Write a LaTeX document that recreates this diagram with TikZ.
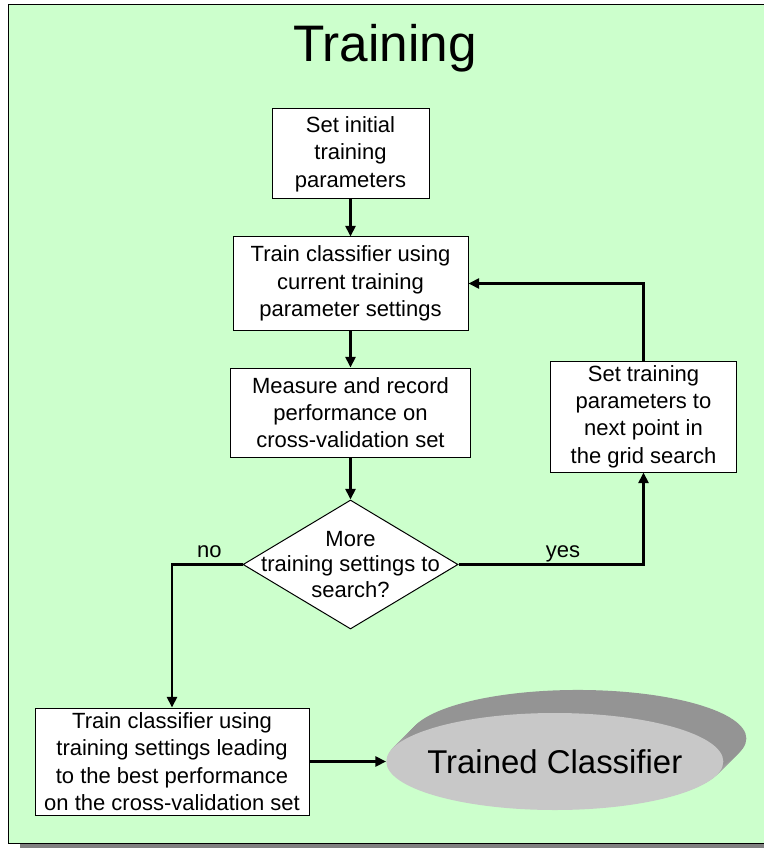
\documentclass[tikz,border=0pt]{standalone}
\usepackage{fontspec}
\setmainfont{Liberation Sans}
\usetikzlibrary{shapes.geometric, arrows.meta, positioning, backgrounds}
\usepackage{xcolor}
\definecolor{trpanel}{HTML}{CCFFCC}
\definecolor{trshadow}{HTML}{808080}
\definecolor{trface}{HTML}{C8C8C8}

\begin{document}
\begin{tikzpicture}[
    x=0.75pt, y=-0.75pt,
    every node/.style={align=center, font=\fontsize{16.5}{20.5}\selectfont},
    tr-box/.style={rectangle,
        draw=black, line width=0.75pt, fill=white, inner sep=2pt},
    tr-decision/.style={diamond,
        minimum width=161.25pt, minimum height=96.75pt,
        draw=black, line width=0.75pt, fill=white, inner sep=0pt},
    tr-disk/.style={ellipse,
        minimum width=252.75pt, minimum height=72.75pt,
        fill=trface, inner sep=0pt},
    tr-label/.style={inner sep=0pt, text depth=0pt, above=4.5pt},
    tr-arrow/.style={-{Triangle[length=8pt, width=7.5pt]}, line width=2pt},
]
    \useasboundingbox (0,0) rectangle (763,848);

    % ---- PANEL (background layer) ----
    \begin{scope}[on background layer]
        \fill[white] (0,0) rectangle (763,848);
        \fill[trshadow] (20,17) rectangle (800,860);
        \filldraw[fill=trpanel, draw=black, line width=0.75pt] (8,5) rectangle (790,843);
    \end{scope}

    \node[font=\fontsize{38.5}{46}\selectfont, anchor=base] (title) at (385,62) {Training};

    % ---- NODES: main chain ----
    \node[tr-box, minimum width=117.75pt, minimum height=67.5pt] (init) at (350.5,154)
        {Set initial\\training\\parameters};

    \node[tr-box, minimum width=176.25pt, minimum height=69.75pt, below=27.75pt of init] (train)
        {Train classifier using\\current training\\parameter settings};

    \node[tr-box, minimum width=180pt, minimum height=66.75pt, below=27.75pt of train] (measure)
        {Measure and record\\performance on\\cross-validation set};

    \node[tr-decision, below=31.5pt of measure] (search) {};
    \node[font=\fontsize{16.5}{19}\selectfont] (search-text) at (search)
        {More\\training settings to\\search?};

    % ---- NODES: side branch and result ----
    \node[tr-box, minimum width=139.5pt, minimum height=83.25pt,
          right=59.25pt of measure, yshift=-3pt] (next)
        {Set training\\parameters to\\next point in\\the grid search};

    \node[tr-box, minimum width=205.5pt, minimum height=80.25pt] (best) at (172,761.5)
        {Train classifier using\\training settings leading\\to the best performance\\on the cross-validation set};

    \node[tr-disk, right=57.4pt of best] (trained) {};
    \node[font=\fontsize{24.7}{30}\selectfont] (trained-text) at (trained) {Trained Classifier};

    % disk side (background layer, above the panel)
    \begin{scope}[on background layer]
        \foreach \s [evaluate=\s as \k using int(30+\s/2)] in {1,...,25}
            \fill[black!\k] ([shift={(0.92*\s,-0.92*\s)}]trained.center)
                ellipse [x radius=126.4pt, y radius=36.4pt];
    \end{scope}

    % ---- ARROWS ----
    \draw[tr-arrow] (init)    -- (train);
    \draw[tr-arrow] (train)   -- (measure);
    \draw[tr-arrow] (measure) -- (search);
    \draw[tr-arrow] (search.east) -- node[tr-label, pos=0.565] (yes) {yes}
        (search.east -| next.south) -- (next.south);
    \draw[tr-arrow] (next.north) |- (train.east);
    \draw[tr-arrow] (search.west) -- node[tr-label, pos=0.47] (no) {no}
        (search.west -| best.north) -- (best.north);
    \draw[tr-arrow] (best.east) -- (best.east -| trained.west);

\end{tikzpicture}
\end{document}
